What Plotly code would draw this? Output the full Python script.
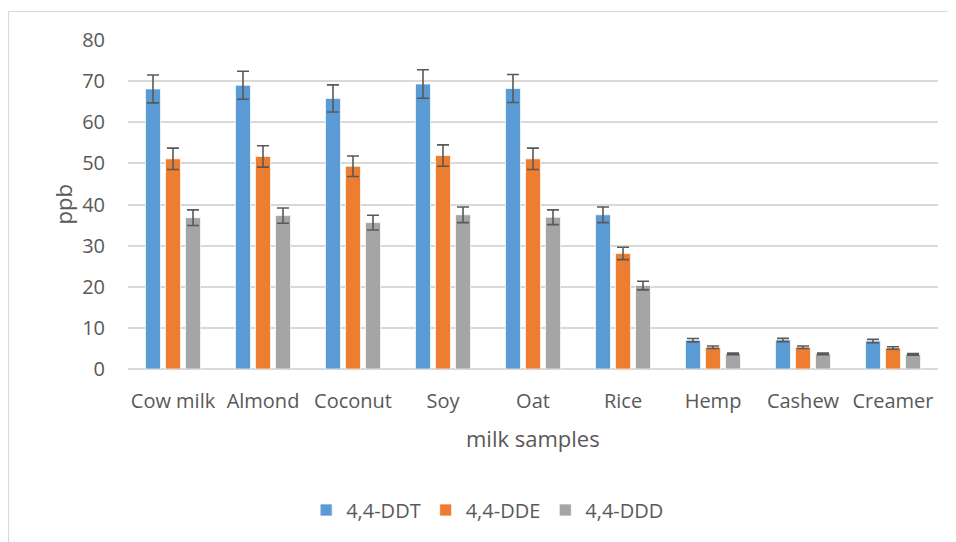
import plotly.graph_objects as go

categories = ["Cow milk", "Almond", "Coconut", "Soy", "Oat", "Rice", "Hemp", "Cashew", "Creamer"]
ddt = [68.1, 69.0, 65.8, 69.3, 68.2, 37.5, 7.0, 7.05, 6.8]
ddt_err = [3.4, 3.4, 3.3, 3.45, 3.4, 1.9, 0.4, 0.4, 0.4]
dde = [51.1, 51.7, 49.3, 51.9, 51.1, 28.1, 5.3, 5.3, 5.1]
dde_err = [2.6, 2.6, 2.5, 2.6, 2.6, 1.5, 0.3, 0.3, 0.3]
ddd = [36.8, 37.3, 35.6, 37.5, 36.9, 20.3, 3.7, 3.7, 3.55]
ddd_err = [1.9, 1.85, 1.8, 1.9, 1.8, 1.05, 0.2, 0.2, 0.2]
series_names = ["4,4-DDT", "4,4-DDE", "4,4-DDD"]
y_ticks = [0, 10, 20, 30, 40, 50, 60, 70, 80]

colors = ["#5B9BD5", "#ED7D31", "#A5A5A5"]
FONT = "Open Sans"
TXT = "#595959"

# plot area in figure pixels (page has an 8px body margin)
L, R, T, B = 120, 26, 32, 181
PW = 956 - L - R
PH = 542 - T - B

fig = go.Figure()
for name, vals, errs, col in zip(series_names, [ddt, dde, ddd], [ddt_err, dde_err, ddd_err], colors):
    fig.add_trace(go.Bar(
        x=categories, y=vals, name=name,
        marker=dict(color=col, line=dict(color="rgba(255,255,255,0.7)", width=1)),
        error_y=dict(type="data", array=errs, visible=True, color=TXT, thickness=1.6, width=6),
    ))

fig.update_layout(
    width=956, height=542,
    paper_bgcolor="white", plot_bgcolor="white",
    margin=dict(l=L, r=R, t=T, b=B, autoexpand=False),
    barmode="group", bargap=0.333, bargroupgap=0.25,
    font=dict(family=FONT, color=TXT),
    showlegend=True,
    legend=dict(orientation="h", x=0.444, xanchor="center", y=(PH - (502 - T)) / PH, yanchor="middle",
                font=dict(size=20, color=TXT, family=FONT), itemwidth=30, traceorder="normal"),
    xaxis=dict(showgrid=False, ticks="outside", ticklen=14, tickcolor="rgba(0,0,0,0)",
               tickfont=dict(size=20, color=TXT, family=FONT), showline=False, zeroline=False),
    yaxis=dict(range=[0, 80], tickvals=y_ticks, showgrid=True, gridcolor="#D9D9D9", gridwidth=1.5,
               zeroline=True, zerolinecolor="#D9D9D9", zerolinewidth=1.5,
               ticks="outside", ticklen=18, tickcolor="rgba(0,0,0,0)",
               tickfont=dict(size=20, color=TXT, family=FONT), showline=False),
    annotations=[
        dict(text="milk samples", xref="paper", yref="paper", x=0.5, y=(PH - (430 - T)) / PH, xanchor="center",
             yanchor="middle", showarrow=False, font=dict(size=22, color=TXT, family=FONT)),
        dict(text="ppb", xref="paper", yref="paper", x=(54 - L) / PW, y=0.5, xanchor="center",
             yanchor="middle", textangle=-90, showarrow=False, font=dict(size=22, color=TXT, family=FONT)),
    ],
    shapes=[
        dict(type="line", xref="paper", yref="paper",
             x0=(0.5 - L) / PW, x1=(956 - L) / PW, y0=1 + (T - 3.5) / PH, y1=1 + (T - 3.5) / PH,
             line=dict(color="#D9D9D9", width=1.2)),
        dict(type="line", xref="paper", yref="paper",
             x0=(0.5 - L) / PW, x1=(0.5 - L) / PW, y0=1 + (T - 3.5) / PH, y1=-(B) / PH,
             line=dict(color="#D9D9D9", width=1.2)),
    ],
)

fig.write_html("out.html")
